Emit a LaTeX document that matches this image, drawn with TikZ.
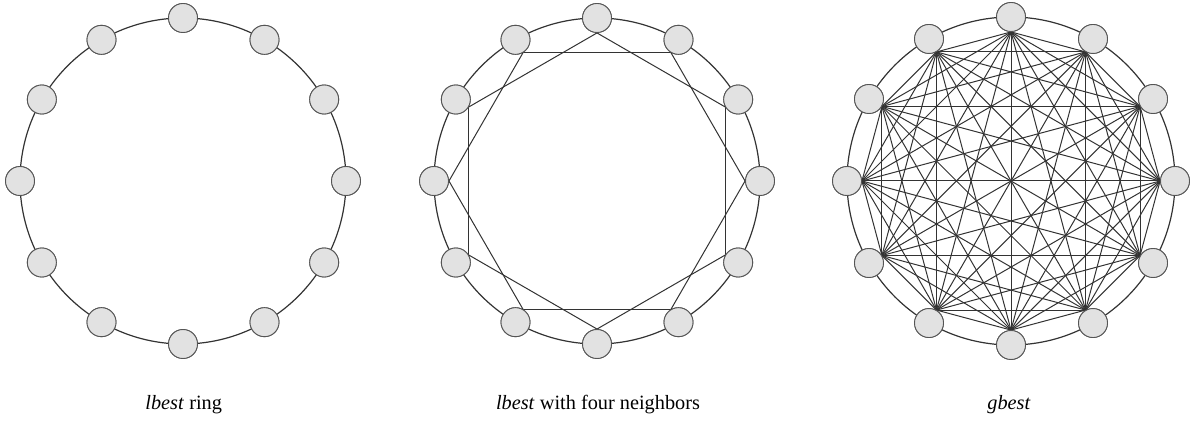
\documentclass[tikz,border=0pt]{standalone}
\usepackage{fontspec}
\setmainfont{Liberation Serif}
\definecolor{nodefill}{HTML}{E2E2E2}
\definecolor{nodeline}{HTML}{555555}
\definecolor{ringline}{HTML}{333333}
\begin{document}
\begin{tikzpicture}[x=1pt,y=1pt,
  pnode/.style={circle, minimum size=29pt, inner sep=0pt, draw=nodeline, fill=nodefill, line width=0.9pt},
  ring/.style={draw=ringline, line width=1.2pt},
  link/.style={draw=black!80, line width=1pt},
  caption/.style={anchor=base, font=\fontsize{20.3}{24}\selectfont, inner sep=0pt}]
\useasboundingbox (0,0) rectangle (1194,423);
% centres
\coordinate (cA) at (183,242);
\coordinate (cB) at (597,242);
\coordinate (cC) at (1011,242);
% rings
\draw[ring] (cA) circle (163);
\draw[ring] (cB) circle (163);
\draw[ring] (cC) circle (164);
% nodes
\foreach \k in {0,...,11}{
  \pgfmathsetmacro{\ang}{90-30*\k}
  \node[pnode] (A\k) at ([shift={(\ang:163)}]cA) {};
  \node[pnode] (B\k) at ([shift={(\ang:163)}]cB) {};
  \node[pnode] (C\k) at ([shift={(\ang:164)}]cC) {};
}
% links for lbest with four neighbours: i to i+2
\foreach \k in {0,...,11}{
  \pgfmathtruncatemacro{\j}{mod(\k+2,12)}
  \pgfmathsetmacro{\ai}{270-30*\k}
  \pgfmathsetmacro{\aj}{270-30*\j}
  \draw[link] (B\k.\ai) -- (B\j.\aj);
}
% links for gbest: all pairs
\foreach \k in {0,...,10}{
  \pgfmathtruncatemacro{\s}{\k+1}
  \foreach \j in {\s,...,11}{
    \pgfmathsetmacro{\ai}{270-30*\k}
    \pgfmathsetmacro{\aj}{270-30*\j}
    \draw[link] (C\k.\ai) -- (C\j.\aj);
  }
}
% redraw nodes on top
\foreach \k in {0,...,11}{
  \node[pnode] at (A\k) {};
  \node[pnode] at (B\k) {};
  \node[pnode] at (C\k) {};
}
% captions
\node[caption] (tA) at (183.7,13.5) {\textit{lbest} ring};
\node[caption] (tB) at (598,13.5) {\textit{lbest} with four neighbors};
\node[caption] (tC) at (1009,13.5) {\textit{gbest}};
\end{tikzpicture}
\end{document}
